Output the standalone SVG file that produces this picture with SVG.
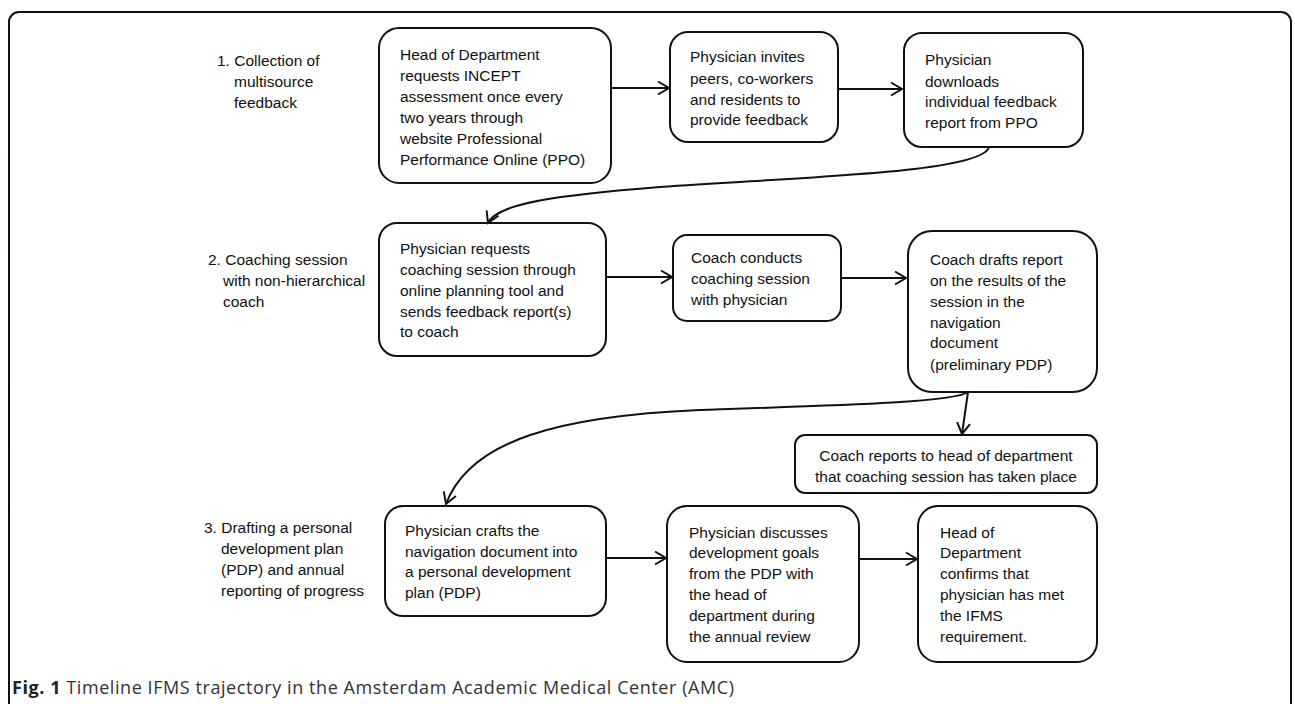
<svg xmlns="http://www.w3.org/2000/svg" width="1295" height="704" viewBox="0 0 1295 704">
<defs>
<marker id="arr" markerUnits="userSpaceOnUse" markerWidth="16" markerHeight="16" refX="13" refY="8" orient="auto">
<path d="M2,1.5 L13,8 L2,14.5" fill="none" stroke="#111" stroke-width="2" stroke-linejoin="miter"/>
</marker>
</defs>
<style>
.frame{fill:#fff;stroke:#111;stroke-width:2}
.box{fill:#fff;stroke:#111;stroke-width:2}
.t{font-family:"Liberation Sans",Arial,sans-serif;font-size:15.5px;fill:#111}
.c{text-anchor:middle}
.cap{font-family:"Open Sans","Liberation Sans",sans-serif;font-size:18px;fill:#333}
.conn path{fill:none;stroke:#111;stroke-width:2;marker-end:url(#arr)}
</style>
<rect class="frame" x="9" y="12" width="1282" height="720" rx="10"/>

<g id="label1">
<text class="t" x="217" y="66">1. Collection of</text>
<text class="t" x="234" y="87">multisource</text>
<text class="t" x="234" y="108">feedback</text>
</g>
<g id="label2">
<text class="t" x="208" y="265">2. Coaching session</text>
<text class="t" x="223" y="286">with non-hierarchical</text>
<text class="t" x="223" y="307">coach</text>
</g>
<g id="label3">
<text class="t" x="204" y="533">3. Drafting a personal</text>
<text class="t" x="221" y="554">development plan</text>
<text class="t" x="221" y="575">(PDP) and annual</text>
<text class="t" x="221" y="596">reporting of progress</text>
</g>

<g id="n1">
<rect class="box" x="379" y="28" width="232" height="155" rx="20"/>
<text class="t" x="400" y="60">Head of Department</text>
<text class="t" x="400" y="81">requests INCEPT</text>
<text class="t" x="400" y="102">assessment once every</text>
<text class="t" x="400" y="123">two years through</text>
<text class="t" x="400" y="144">website Professional</text>
<text class="t" x="400" y="165">Performance Online (PPO)</text>
</g>
<g id="n2">
<rect class="box" x="670" y="32" width="168" height="110" rx="18"/>
<text class="t" x="690" y="62">Physician invites</text>
<text class="t" x="690" y="84">peers, co-workers</text>
<text class="t" x="690" y="105">and residents to</text>
<text class="t" x="690" y="125">provide feedback</text>
</g>
<g id="n3">
<rect class="box" x="904" y="33" width="179" height="114" rx="18"/>
<text class="t" x="925" y="65">Physician</text>
<text class="t" x="925" y="87">downloads</text>
<text class="t" x="925" y="107">individual feedback</text>
<text class="t" x="925" y="128">report from PPO</text>
</g>
<g id="n4">
<rect class="box" x="379" y="223" width="227" height="133" rx="18"/>
<text class="t" x="400" y="254">Physician requests</text>
<text class="t" x="400" y="275">coaching session through</text>
<text class="t" x="400" y="296">online planning tool and</text>
<text class="t" x="400" y="317">sends feedback report(s)</text>
<text class="t" x="400" y="337">to coach</text>
</g>
<g id="n5">
<rect class="box" x="673" y="235" width="168" height="86" rx="14"/>
<text class="t" x="691" y="263">Coach conducts</text>
<text class="t" x="691" y="284">coaching session</text>
<text class="t" x="691" y="305">with physician</text>
</g>
<g id="n6">
<rect class="box" x="908" y="231" width="189" height="161" rx="24"/>
<text class="t" x="930" y="265">Coach drafts report</text>
<text class="t" x="930" y="286">on the results of the</text>
<text class="t" x="930" y="307">session in the</text>
<text class="t" x="930" y="328">navigation</text>
<text class="t" x="930" y="348">document</text>
<text class="t" x="930" y="370">(preliminary PDP)</text>
</g>
<g id="n7">
<rect class="box" x="795" y="435" width="302" height="58" rx="10"/>
<text class="t c" x="946" y="461">Coach reports to head of department</text>
<text class="t c" x="946" y="482">that coaching session has taken place</text>
</g>
<g id="n8">
<rect class="box" x="385" y="506" width="221" height="110" rx="18"/>
<text class="t" x="405" y="536">Physician crafts the</text>
<text class="t" x="405" y="557">navigation document into</text>
<text class="t" x="405" y="577">a personal development</text>
<text class="t" x="405" y="598">plan (PDP)</text>
</g>
<g id="n9">
<rect class="box" x="667" y="506" width="192" height="156" rx="20"/>
<text class="t" x="689" y="538">Physician discusses</text>
<text class="t" x="689" y="558">development goals</text>
<text class="t" x="689" y="579">from the PDP with</text>
<text class="t" x="689" y="600">the head of</text>
<text class="t" x="689" y="621">department during</text>
<text class="t" x="689" y="642">the annual review</text>
</g>
<g id="n10">
<rect class="box" x="918" y="506" width="179" height="156" rx="20"/>
<text class="t" x="940" y="538">Head of</text>
<text class="t" x="940" y="558">Department</text>
<text class="t" x="940" y="579">confirms that</text>
<text class="t" x="940" y="600">physician has met</text>
<text class="t" x="940" y="621">the IFMS</text>
<text class="t" x="940" y="642">requirement.</text>
</g>

<g id="connectors" class="conn">
<path d="M611,88 L669,88"/>
<path d="M838,89 L902,89"/>
<path d="M989,147 C982,172 820,176 660,187 C560,195 497,203 488,223"/>
<path d="M606,277 L672,277"/>
<path d="M841,278 L906,278"/>
<path d="M968,392 L962,434"/>
<path d="M968,392 C955,402 850,405 700,410 C560,416 470,440 446,504"/>
<path d="M606,558 L666,558"/>
<path d="M859,559 L917,559"/>
</g>

<text class="cap" x="12" y="694" textLength="722"><tspan font-weight="bold" fill="#222">Fig. 1</tspan> Timeline IFMS trajectory in the Amsterdam Academic Medical Center (AMC)</text>
</svg>
